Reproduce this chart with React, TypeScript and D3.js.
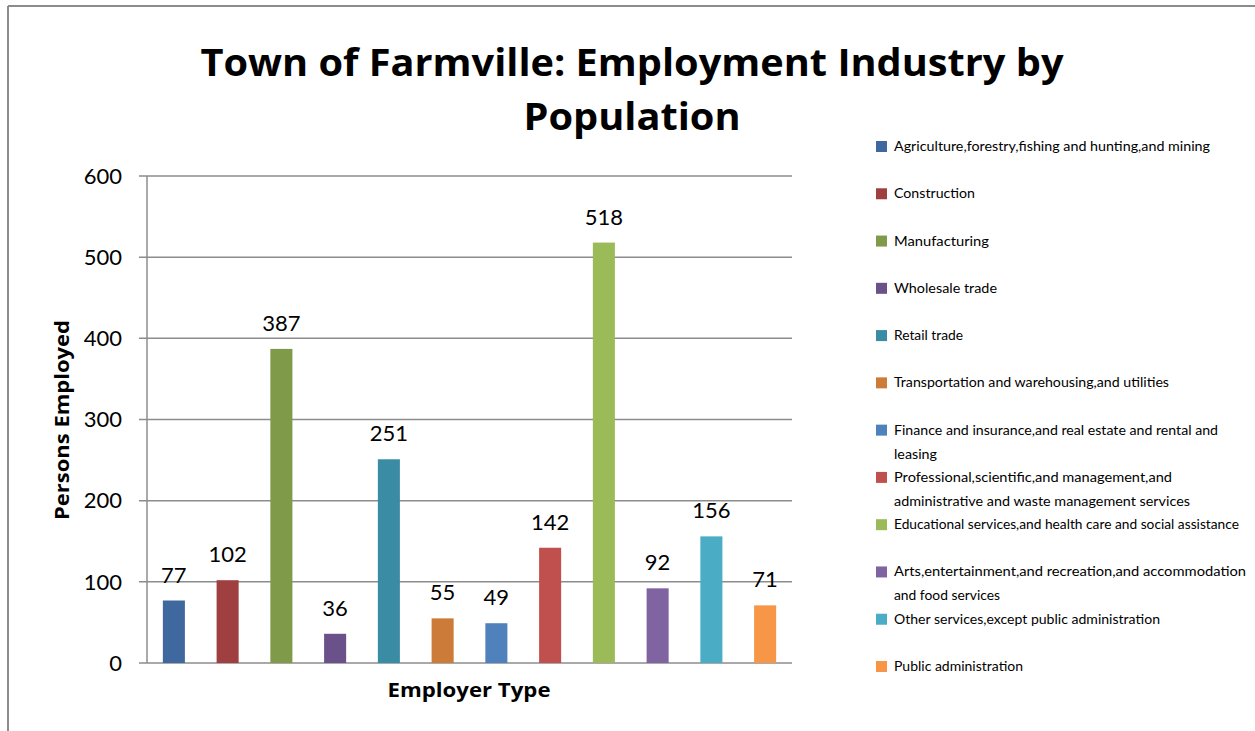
import React from "react";
import * as d3 from "d3";

const categories = [
  "Agriculture,forestry,fishing and hunting,and mining",
  "Construction",
  "Manufacturing",
  "Wholesale trade",
  "Retail trade",
  "Transportation and warehousing,and utilities",
  "Finance and insurance,and real estate and rental and leasing",
  "Professional,scientific,and management,and administrative and waste management services",
  "Educational services,and health care and social assistance",
  "Arts,entertainment,and recreation,and accommodation and food services",
  "Other services,except public administration",
  "Public administration",
];
const values = [77, 102, 387, 36, 251, 55, 49, 142, 518, 92, 156, 71];
const colors = [
  "#3F699E", "#A03F3F", "#7F9A48", "#6A518A", "#3A8CA4", "#CD7B38",
  "#4F81BD", "#C0504D", "#9BBB59", "#8064A2", "#4BACC6", "#F79646",
];
const legendLines = [
  ["Agriculture,forestry,fishing and hunting,and mining"],
  ["Construction"],
  ["Manufacturing"],
  ["Wholesale trade"],
  ["Retail trade"],
  ["Transportation and warehousing,and utilities"],
  ["Finance and insurance,and real estate and rental and", "leasing"],
  ["Professional,scientific,and management,and", "administrative and waste management services"],
  ["Educational services,and health care and social assistance"],
  ["Arts,entertainment,and recreation,and accommodation", "and food services"],
  ["Other services,except public administration"],
  ["Public administration"],
];
const legendWidths = [
  [316], [81], [95], [103], [69], [275], [324, 43], [278, 296], [345], [352, 106], [266], [129],
];
const yTicks = [0, 100, 200, 300, 400, 500, 600];
const titleLines = ["Town of Farmville: Employment Industry by", "Population"];

export default function App() {
  const W = 1255, H = 731;
  const left = 147, right = 792, top = 176, bottom = 663;
  const y = d3.scaleLinear().domain([0, 600]).range([bottom, top]);
  const x = d3.scaleBand().domain(categories).range([left, right]).padding(0);
  const barW = x.bandwidth() * 0.41;
  const gray = "#8C8C8C";
  const font = "Lato, 'Open Sans', sans-serif";

  const legendY = d3.scaleLinear().domain([0, 11]).range([146, 666]);

  return (
    <svg width={W} height={H} style={{ position: "absolute", left: 0, top: 0 }} fontFamily={font}>
      <rect x={0} y={0} width={W} height={H} fill="#fff" />
      {/* frame */}
      <line x1={8} y1={6} x2={W} y2={6} stroke={gray} strokeWidth={2} />
      <line x1={8} y1={6} x2={8} y2={H} stroke={gray} strokeWidth={2} />

      {/* title */}
      <text x={632} y={76} textAnchor="middle" fontSize={38} fontWeight="bold" fontFamily="'Open Sans', sans-serif"
        textLength={863} lengthAdjust="spacingAndGlyphs">{titleLines[0]}</text>
      <text x={632} y={130} textAnchor="middle" fontSize={38} fontWeight="bold" fontFamily="'Open Sans', sans-serif"
        textLength={217} lengthAdjust="spacingAndGlyphs">{titleLines[1]}</text>

      {/* gridlines and y ticks */}
      {yTicks.map((t) => (
        <g key={t}>
          <line x1={left - 8} x2={right} y1={y(t)} y2={y(t)} stroke={gray} strokeWidth={1.5} />
          <text x={122} y={y(t)} dy="0.35em" textAnchor="end" fontSize={22} fill="#000">{t}</text>
        </g>
      ))}
      <line x1={left} x2={left} y1={top} y2={bottom} stroke={gray} strokeWidth={1.5} />

      {/* bars */}
      {categories.map((c, i) => {
        const bx = (x(c) as number) + (x.bandwidth() - barW) / 2;
        return (
          <g key={c}>
            <rect x={bx} y={y(values[i])} width={barW} height={bottom - y(values[i])} fill={colors[i]} />
            <text x={bx + barW / 2} y={y(values[i]) - 18} textAnchor="middle" fontSize={22} fill="#000">{values[i]}</text>
          </g>
        );
      })}

      {/* axis titles */}
      <text x={469} y={697} textAnchor="middle" fontSize={20} fontWeight="bold"
        fontFamily="'Open Sans', sans-serif" textLength={163} lengthAdjust="spacingAndGlyphs">Employer Type</text>
      <text transform={`translate(69,420) rotate(-90)`} textAnchor="middle" fontSize={20} fontWeight="bold"
        fontFamily="'Open Sans', sans-serif" textLength={200} lengthAdjust="spacingAndGlyphs">Persons Employed</text>

      {/* legend */}
      {legendLines.map((lines, i) => {
        const cy = legendY(i);
        return (
          <g key={i}>
            <rect x={876} y={cy - 5} width={11} height={11} fill={colors[i]} />
            {lines.map((ln, j) => (
              <text key={j} x={894} y={cy + 5 + j * 24} fontSize={14} fill="#000"
                textLength={legendWidths[i][j]} lengthAdjust="spacingAndGlyphs">{ln}</text>
            ))}
          </g>
        );
      })}
    </svg>
  );
}
